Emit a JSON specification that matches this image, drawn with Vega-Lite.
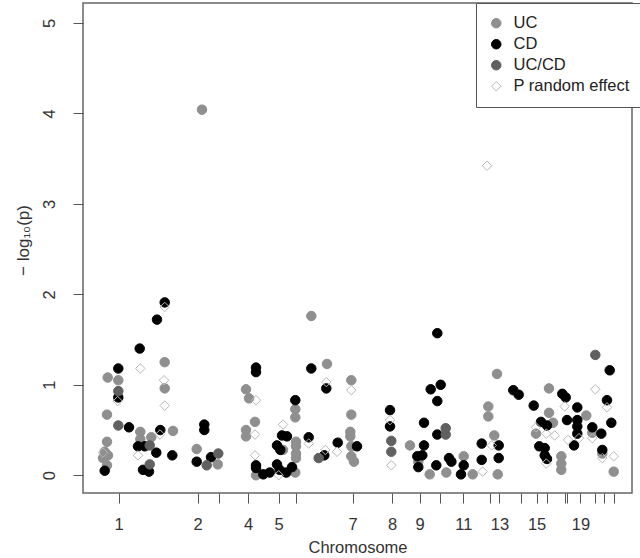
{
  "$schema": "https://vega.github.io/schema/vega-lite/v6.json",
  "width": 549,
  "height": 490,
  "autosize": {"type": "none"},
  "padding": {"left": 83, "top": 3, "right": 8, "bottom": 65},
  "background": "white",
  "config": {"view": {"stroke": "#666666", "strokeWidth": 1.5}, "font": "Liberation Sans"},
  "data": {"values": [
    {"x": 24.7, "y": 1.08, "g": "UC"}, {"x": 35.3, "y": 1.05, "g": "UC"}, {"x": 81.7, "y": 1.25, "g": "UC"}, {"x": 81.7, "y": 0.96, "g": "UC"},
    {"x": 24, "y": 0.67, "g": "UC"}, {"x": 57.3, "y": 0.48, "g": "UC"}, {"x": 57.3, "y": 0.40, "g": "UC"}, {"x": 90, "y": 0.49, "g": "UC"},
    {"x": 68.3, "y": 0.42, "g": "UC"}, {"x": 24, "y": 0.37, "g": "UC"}, {"x": 21.7, "y": 0.26, "g": "UC"}, {"x": 25, "y": 0.22, "g": "UC"},
    {"x": 24, "y": 0.11, "g": "UC"}, {"x": 20, "y": 0.19, "g": "UC"},
    {"x": 113.7, "y": 0.29, "g": "UC"}, {"x": 134.7, "y": 0.12, "g": "UC"}, {"x": 119, "y": 4.04, "g": "UC"},
    {"x": 163, "y": 0.95, "g": "UC"}, {"x": 166, "y": 0.85, "g": "UC"}, {"x": 172, "y": 0.59, "g": "UC"}, {"x": 163, "y": 0.50, "g": "UC"},
    {"x": 163, "y": 0.43, "g": "UC"}, {"x": 173, "y": 0.00, "g": "UC"},
    {"x": 212.3, "y": 0.73, "g": "UC"}, {"x": 212.3, "y": 0.64, "g": "UC"}, {"x": 200, "y": 0.28, "g": "UC"}, {"x": 213, "y": 0.37, "g": "UC"},
    {"x": 213, "y": 0.32, "g": "UC"}, {"x": 213, "y": 0.24, "g": "UC"}, {"x": 213, "y": 0.19, "g": "UC"}, {"x": 212.3, "y": 0.03, "g": "UC"},
    {"x": 228.3, "y": 1.76, "g": "UC"}, {"x": 244, "y": 1.23, "g": "UC"},
    {"x": 268.3, "y": 1.05, "g": "UC"}, {"x": 268.3, "y": 0.67, "g": "UC"}, {"x": 267.3, "y": 0.48, "g": "UC"}, {"x": 267.3, "y": 0.43, "g": "UC"},
    {"x": 268.3, "y": 0.32, "g": "UC"}, {"x": 268.3, "y": 0.21, "g": "UC"}, {"x": 271, "y": 0.15, "g": "UC"},
    {"x": 327, "y": 0.33, "g": "UC"}, {"x": 335.3, "y": 0.15, "g": "UC"}, {"x": 346.7, "y": 0.01, "g": "UC"}, {"x": 363.3, "y": 0.03, "g": "UC"},
    {"x": 414, "y": 1.12, "g": "UC"}, {"x": 405.3, "y": 0.76, "g": "UC"}, {"x": 405.3, "y": 0.65, "g": "UC"}, {"x": 411.3, "y": 0.44, "g": "UC"},
    {"x": 453, "y": 0.46, "g": "UC"}, {"x": 380.7, "y": 0.21, "g": "UC"}, {"x": 389.7, "y": 0.01, "g": "UC"}, {"x": 414.7, "y": 0.01, "g": "UC"},
    {"x": 466, "y": 0.96, "g": "UC"}, {"x": 466, "y": 0.69, "g": "UC"}, {"x": 503.3, "y": 0.66, "g": "UC"}, {"x": 470, "y": 0.58, "g": "UC"},
    {"x": 509.3, "y": 0.47, "g": "UC"}, {"x": 519.3, "y": 0.24, "g": "UC"}, {"x": 478.3, "y": 0.21, "g": "UC"}, {"x": 478.3, "y": 0.13, "g": "UC"},
    {"x": 478.3, "y": 0.06, "g": "UC"}, {"x": 530.7, "y": 0.04, "g": "UC"},
    {"x": 81.7, "y": 1.91, "g": "CD"}, {"x": 74, "y": 1.72, "g": "CD"}, {"x": 56.7, "y": 1.40, "g": "CD"}, {"x": 35.3, "y": 1.18, "g": "CD"},
    {"x": 35.3, "y": 0.86, "g": "CD"}, {"x": 46, "y": 0.53, "g": "CD"}, {"x": 77.3, "y": 0.50, "g": "CD"}, {"x": 55, "y": 0.32, "g": "CD"},
    {"x": 61.7, "y": 0.32, "g": "CD"}, {"x": 73.3, "y": 0.25, "g": "CD"}, {"x": 89.3, "y": 0.22, "g": "CD"}, {"x": 21.7, "y": 0.05, "g": "CD"},
    {"x": 60, "y": 0.06, "g": "CD"}, {"x": 66, "y": 0.04, "g": "CD"},
    {"x": 121.3, "y": 0.56, "g": "CD"}, {"x": 121.3, "y": 0.50, "g": "CD"}, {"x": 113.7, "y": 0.15, "g": "CD"}, {"x": 128, "y": 0.20, "g": "CD"},
    {"x": 173, "y": 1.19, "g": "CD"}, {"x": 173, "y": 1.14, "g": "CD"}, {"x": 173, "y": 0.11, "g": "CD"}, {"x": 173, "y": 0.08, "g": "CD"},
    {"x": 180.3, "y": 0.01, "g": "CD"}, {"x": 186.7, "y": 0.03, "g": "CD"},
    {"x": 212.3, "y": 0.83, "g": "CD"}, {"x": 199, "y": 0.44, "g": "CD"}, {"x": 204, "y": 0.43, "g": "CD"}, {"x": 194, "y": 0.33, "g": "CD"},
    {"x": 197.3, "y": 0.28, "g": "CD"}, {"x": 225.7, "y": 0.42, "g": "CD"}, {"x": 194, "y": 0.12, "g": "CD"}, {"x": 196.7, "y": 0.06, "g": "CD"},
    {"x": 209, "y": 0.09, "g": "CD"}, {"x": 203.3, "y": 0.03, "g": "CD"},
    {"x": 228.3, "y": 1.18, "g": "CD"}, {"x": 243.3, "y": 0.96, "g": "CD"}, {"x": 241.3, "y": 0.22, "g": "CD"},
    {"x": 254.7, "y": 0.36, "g": "CD"}, {"x": 274, "y": 0.32, "g": "CD"},
    {"x": 307, "y": 0.72, "g": "CD"}, {"x": 307, "y": 0.54, "g": "CD"},
    {"x": 341, "y": 0.58, "g": "CD"}, {"x": 341, "y": 0.33, "g": "CD"}, {"x": 339.3, "y": 0.22, "g": "CD"}, {"x": 334.3, "y": 0.21, "g": "CD"},
    {"x": 335.3, "y": 0.09, "g": "CD"}, {"x": 353.3, "y": 0.11, "g": "CD"}, {"x": 354.3, "y": 1.57, "g": "CD"}, {"x": 347.7, "y": 0.95, "g": "CD"},
    {"x": 357.7, "y": 1.00, "g": "CD"}, {"x": 354.3, "y": 0.82, "g": "CD"}, {"x": 354.3, "y": 0.45, "g": "CD"}, {"x": 366, "y": 0.19, "g": "CD"},
    {"x": 368.4, "y": 0.15, "g": "CD"},
    {"x": 430.3, "y": 0.94, "g": "CD"}, {"x": 435.7, "y": 0.89, "g": "CD"}, {"x": 450.7, "y": 0.77, "g": "CD"}, {"x": 398.7, "y": 0.35, "g": "CD"},
    {"x": 415.7, "y": 0.33, "g": "CD"}, {"x": 456.3, "y": 0.32, "g": "CD"}, {"x": 380.7, "y": 0.11, "g": "CD"}, {"x": 398.7, "y": 0.17, "g": "CD"},
    {"x": 415.7, "y": 0.19, "g": "CD"}, {"x": 378, "y": 0.01, "g": "CD"}, {"x": 458, "y": 0.59, "g": "CD"},
    {"x": 526.7, "y": 1.16, "g": "CD"}, {"x": 479.3, "y": 0.90, "g": "CD"}, {"x": 482.7, "y": 0.86, "g": "CD"}, {"x": 524, "y": 0.83, "g": "CD"},
    {"x": 494.3, "y": 0.75, "g": "CD"}, {"x": 484, "y": 0.61, "g": "CD"}, {"x": 494.3, "y": 0.61, "g": "CD"}, {"x": 494.3, "y": 0.54, "g": "CD"},
    {"x": 494.3, "y": 0.46, "g": "CD"}, {"x": 464, "y": 0.55, "g": "CD"}, {"x": 509.3, "y": 0.53, "g": "CD"}, {"x": 528.3, "y": 0.58, "g": "CD"},
    {"x": 518.3, "y": 0.46, "g": "CD"}, {"x": 491, "y": 0.33, "g": "CD"}, {"x": 461.7, "y": 0.30, "g": "CD"}, {"x": 461.7, "y": 0.22, "g": "CD"},
    {"x": 519.3, "y": 0.28, "g": "CD"}, {"x": 464, "y": 0.18, "g": "CD"},
    {"x": 35.3, "y": 0.93, "g": "UC/CD"}, {"x": 35.3, "y": 0.55, "g": "UC/CD"}, {"x": 66.7, "y": 0.33, "g": "UC/CD"}, {"x": 66.7, "y": 0.12, "g": "UC/CD"},
    {"x": 123.7, "y": 0.11, "g": "UC/CD"}, {"x": 135.3, "y": 0.24, "g": "UC/CD"}, {"x": 235.7, "y": 0.19, "g": "UC/CD"}, {"x": 308.3, "y": 0.38, "g": "UC/CD"},
    {"x": 308.3, "y": 0.26, "g": "UC/CD"}, {"x": 362.7, "y": 0.52, "g": "UC/CD"}, {"x": 362.7, "y": 0.45, "g": "UC/CD"}, {"x": 512.3, "y": 1.33, "g": "UC/CD"},
    {"x": 81.7, "y": 1.86, "g": "P random effect"}, {"x": 57.3, "y": 1.18, "g": "P random effect"}, {"x": 81, "y": 1.05, "g": "P random effect"},
    {"x": 34.7, "y": 0.82, "g": "P random effect"}, {"x": 81.7, "y": 0.77, "g": "P random effect"}, {"x": 55, "y": 0.22, "g": "P random effect"},
    {"x": 20, "y": 0.25, "g": "P random effect"}, {"x": 77, "y": 0.45, "g": "P random effect"},
    {"x": 173, "y": 0.83, "g": "P random effect"}, {"x": 172, "y": 0.45, "g": "P random effect"}, {"x": 172, "y": 0.22, "g": "P random effect"},
    {"x": 200, "y": 0.56, "g": "P random effect"}, {"x": 225.7, "y": 0.35, "g": "P random effect"}, {"x": 195.7, "y": 0.0, "g": "P random effect"},
    {"x": 243.3, "y": 1.03, "g": "P random effect"}, {"x": 242.3, "y": 0.28, "g": "P random effect"},
    {"x": 254, "y": 0.26, "g": "P random effect"}, {"x": 268.3, "y": 0.94, "g": "P random effect"},
    {"x": 307, "y": 0.61, "g": "P random effect"}, {"x": 308.3, "y": 0.11, "g": "P random effect"},
    {"x": 453, "y": 0.53, "g": "P random effect"}, {"x": 399.7, "y": 0.04, "g": "P random effect"}, {"x": 408.7, "y": 0.33, "g": "P random effect"},
    {"x": 404, "y": 3.42, "g": "P random effect"},
    {"x": 512.3, "y": 0.95, "g": "P random effect"}, {"x": 524, "y": 0.75, "g": "P random effect"}, {"x": 481.7, "y": 0.76, "g": "P random effect"},
    {"x": 463.3, "y": 0.46, "g": "P random effect"}, {"x": 471.7, "y": 0.44, "g": "P random effect"}, {"x": 485, "y": 0.39, "g": "P random effect"},
    {"x": 496, "y": 0.41, "g": "P random effect"}, {"x": 509.3, "y": 0.41, "g": "P random effect"}, {"x": 519.3, "y": 0.19, "g": "P random effect"},
    {"x": 530.7, "y": 0.21, "g": "P random effect"}, {"x": 463.3, "y": 0.13, "g": "P random effect"}
  ]},
  "mark": {"type": "point", "filled": true, "size": 90, "strokeWidth": 1, "opacity": 1},
  "encoding": {
    "x": {
      "field": "x", "type": "quantitative",
      "scale": {"domain": [0, 549], "nice": false, "zero": false},
      "axis": {
        "title": "Chromosome",
        "values": [35.7, 114.5, 136.1, 165.1, 195.6, 212.7, 269.6, 309, 336.5, 356.6, 380.3, 407.1, 416.4, 438, 453.6, 464, 481.5, 484.4, 497.4, 511.6, 521.2, 530.9],
        "labelExpr": "['1','2','','4','5','','7','8','9','','11','','13','','15','','','','19','','',''][indexof([35.7,114.5,136.1,165.1,195.6,212.7,269.6,309,336.5,356.6,380.3,407.1,416.4,438,453.6,464,481.5,484.4,497.4,511.6,521.2,530.9], datum.value)]",
        "domain": false, "grid": false,
        "tickSize": 10, "tickColor": "#555555", "tickWidth": 1,
        "labelFontSize": 16.5, "labelColor": "#333333", "labelBaseline": "alphabetic", "labelPadding": 26,
        "labelFlush": false, "labelOverlap": false,
        "titleFontSize": 16.5, "titleFontWeight": "normal", "titleColor": "#333333",
        "titleY": 59, "titleBaseline": "alphabetic"
      }
    },
    "y": {
      "field": "y", "type": "quantitative",
      "scale": {"domain": [-0.196, 5.219], "nice": false, "zero": false},
      "axis": {
        "title": "− log₁₀(p)",
        "values": [0, 1, 2, 3, 4, 5],
        "domain": false, "grid": false,
        "tickSize": 10, "tickColor": "#555555", "tickWidth": 1,
        "labelAngle": -90, "labelAlign": "center", "labelBaseline": "alphabetic", "labelPadding": 19,
        "labelFontSize": 16.5, "labelColor": "#333333",
        "titleFontSize": 17, "titleFontWeight": "normal", "titleColor": "#333333",
        "titleX": -55, "titleY": 237, "titleAngle": -90, "titleAlign": "center", "titleBaseline": "alphabetic"
      }
    },
    "shape": {
      "field": "g", "type": "nominal",
      "scale": {"domain": ["UC", "CD", "UC/CD", "P random effect"], "range": ["circle", "circle", "circle", "diamond"]},
      "legend": {"orient": "none", "legendX": 393, "legendY": 0, "title": null, "strokeColor": "#555555", "fillColor": "white", "padding": 12, "labelFontSize": 16.5, "labelColor": "#222222", "symbolSize": 90, "symbolStrokeWidth": 1, "rowPadding": 4, "labelOffset": 9}
    },
    "fill": {
      "field": "g", "type": "nominal",
      "scale": {"domain": ["UC", "CD", "UC/CD", "P random effect"], "range": ["#8f8f8f", "#000000", "#606060", "transparent"]},
      "legend": {"orient": "none", "legendX": 393, "legendY": 0, "title": null, "strokeColor": "#555555", "fillColor": "white", "padding": 12, "labelFontSize": 16.5, "labelColor": "#222222", "symbolSize": 90, "symbolStrokeWidth": 1, "rowPadding": 4, "labelOffset": 9}
    },
    "stroke": {
      "field": "g", "type": "nominal",
      "scale": {"domain": ["UC", "CD", "UC/CD", "P random effect"], "range": ["#8f8f8f", "#000000", "#606060", "#b8b8b8"]},
      "legend": {"orient": "none", "legendX": 393, "legendY": 0, "title": null, "strokeColor": "#555555", "fillColor": "white", "padding": 12, "labelFontSize": 16.5, "labelColor": "#222222", "symbolSize": 90, "symbolStrokeWidth": 1, "rowPadding": 4, "labelOffset": 9}
    }
  }
}
